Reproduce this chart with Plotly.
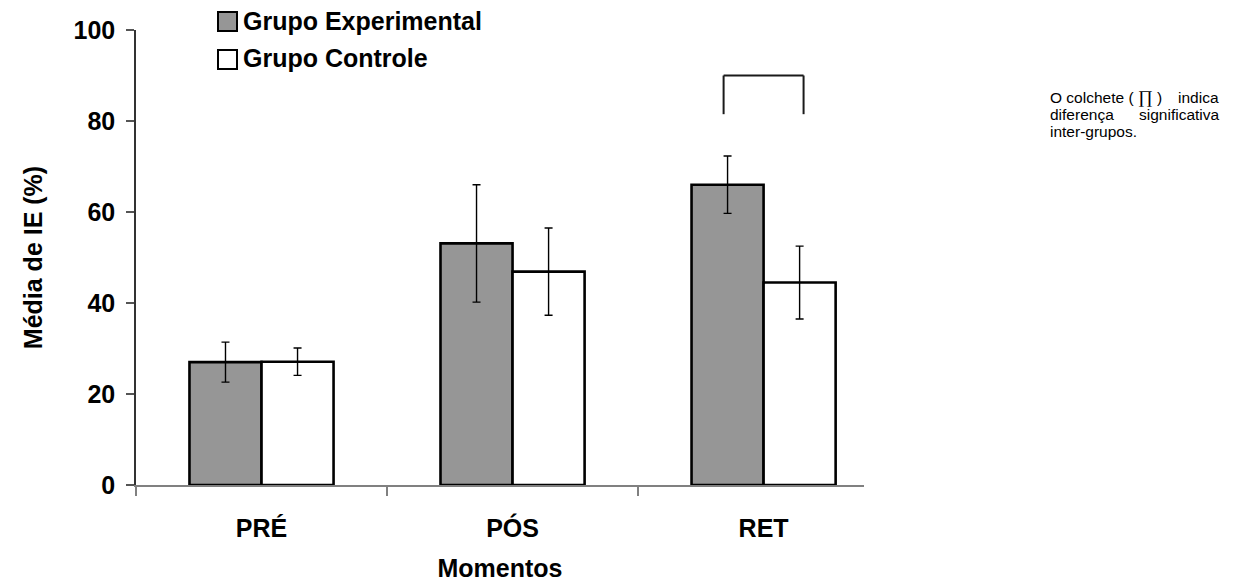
import plotly.graph_objects as go

# ---- data ----
categories = ["PRÉ", "PÓS", "RET"]
series_names = ["Grupo Experimental", "Grupo Controle"]
exp_mean = [27.0, 53.1, 66.0]
exp_err = [4.4, 12.9, 6.3]
ctl_mean = [27.1, 46.9, 44.5]
ctl_err = [3.0, 9.6, 8.0]
y_ticks = [0, 20, 40, 60, 80, 100]
bracket_category = 2          # RET
bracket_top = 90.0
bracket_leg_end = 81.5
note_lines = [["O colchete ( <span style='font-family:Liberation Serif;font-size:18px'>∏</span> )", "indica"],
              ["diferença", "significativa"],
              ["inter-grupos.", ""]]

# ---- layout geometry (reference pixels; page has an 8px body offset) ----
OFF = 8
W, H = 1239 - OFF, 582 - OFF
L, R, T, B = 136 - OFF, 864 - OFF, 30 - OFF, 485 - OFF
pw, ph = R - L, B - T

def px(x):
    return (x - OFF - L) / pw

def py(y):
    return (B - (y - OFF)) / ph

FONT = "Liberation Sans"
bar_line = dict(color="black", width=2.6)
err_style = dict(type="data", color="black", thickness=1.4, width=4)

fig = go.Figure()
fig.add_trace(go.Bar(
    x=categories, y=exp_mean, name=series_names[0],
    marker=dict(color="#969696", line=bar_line),
    error_y=dict(array=exp_err, **err_style), showlegend=False))
fig.add_trace(go.Bar(
    x=categories, y=ctl_mean, name=series_names[1],
    marker=dict(color="white", line=bar_line),
    error_y=dict(array=ctl_err, **err_style), showlegend=False))

bar_w = 0.287
half = bar_w * 0.555
xc = bracket_category
bk = dict(type="line", xref="x", yref="y", line=dict(color="#1a1a1a", width=2))
fig.add_shape(x0=xc - half, x1=xc + half, y0=bracket_top, y1=bracket_top, **bk)
fig.add_shape(x0=xc - half, x1=xc - half, y0=bracket_top, y1=bracket_leg_end, **bk)
fig.add_shape(x0=xc + half, x1=xc + half, y0=bracket_top, y1=bracket_leg_end, **bk)

# manual legend
leg = [("#969696", 12, 31, 21), ("white", 50, 69, 58)]
for (col, y0, y1, yc), name in zip(leg, series_names):
    fig.add_shape(type="rect", xref="paper", yref="paper",
                  x0=px(218), x1=px(237), y0=py(y1), y1=py(y0),
                  fillcolor=col, line=dict(color="black", width=2))
    fig.add_annotation(x=px(241), y=py(yc), xref="paper", yref="paper",
                       text=name, showarrow=False, xanchor="left", yanchor="middle",
                       font=dict(family=FONT, size=25, weight="bold", color="black"))

# note text (justified emulation)
for (left, right), yc in zip(note_lines, [97, 114, 131]):
    fig.add_annotation(x=px(1048), y=py(yc), xref="paper", yref="paper",
                       text=left, showarrow=False, xanchor="left", yanchor="middle",
                       font=dict(family=FONT, size=15.5, color="black"))
    if right:
        fig.add_annotation(x=px(1221), y=py(yc), xref="paper", yref="paper",
                           text=right, showarrow=False, xanchor="right", yanchor="middle",
                           font=dict(family=FONT, size=15.5, color="black"))

fig.update_layout(
    width=W, height=H,
    margin=dict(l=L, r=W - R, t=T, b=H - B, pad=0, autoexpand=False),
    paper_bgcolor="white", plot_bgcolor="white",
    barmode="group", bargap=0.426, bargroupgap=0,
    font=dict(family=FONT, color="black"),
)
fig.update_xaxes(
    range=[-0.5, 2.4], tickson="boundaries", ticks="outside", ticklen=9,
    tickcolor="#808080", tickwidth=1.5, automargin=False,
    showline=True, linecolor="#808080", linewidth=2, showgrid=False,
    tickfont=dict(family=FONT, size=25, weight="bold"), ticklabelstandoff=20,
    title=dict(text="Momentos", font=dict(family=FONT, size=25, weight="bold"), standoff=22),
    fixedrange=True,
)
fig.update_yaxes(
    range=[0, 100], tickvals=y_ticks, ticks="outside", ticklen=8,
    tickcolor="#555555", tickwidth=1.5, automargin=False,
    showline=True, linecolor="#333333", linewidth=1.5, showgrid=False, zeroline=False,
    tickfont=dict(family=FONT, size=25, weight="bold"), ticklabelstandoff=6,
    title=dict(text="Média de IE (%)", font=dict(family=FONT, size=25, weight="bold"), standoff=24),
    fixedrange=True,
)

fig.write_html("out.html")
